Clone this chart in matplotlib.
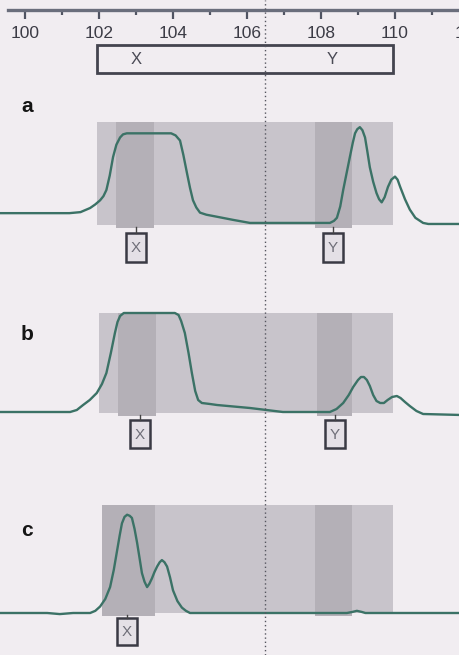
import matplotlib.pyplot as plt
from matplotlib.patches import Rectangle
from matplotlib.ticker import MultipleLocator

plt.rcParams['font.family'] = ['Liberation Sans', 'DejaVu Sans']

# m/z axis of the scan
mz_ticks = [100, 102, 104, 106, 108, 110, 112]
window = (101.95, 109.95)          # scanned range (grey box)
split_mz = 106.49                  # dotted divider
label_x = [103.0, 108.3]           # "X", "Y" in the top box

# trace a
mz_a = [99.3, 101.2, 101.5, 101.76, 101.9, 102.03, 102.12, 102.2, 102.29, 102.38,
        102.47, 102.57, 102.65, 102.75, 103.95, 104.07, 104.19, 104.28, 104.38, 104.46,
        104.54, 104.63, 104.73, 104.9, 105.19, 105.62, 106.08, 108.24, 108.35, 108.43,
        108.52, 108.6, 108.69, 108.78, 108.86, 108.92, 108.98, 109.05, 109.12, 109.19,
        109.25, 109.32, 109.41, 109.5, 109.57, 109.64, 109.72, 109.81, 109.9, 110.0,
        110.07, 110.14, 110.27, 110.4, 110.55, 110.76, 110.9, 111.8]
int_a = [11.5, 11.5, 12.5, 16.5, 20, 24, 28, 34, 48, 66,
         78, 85, 88, 89, 89, 87, 82, 68, 50, 36,
         24, 17, 12, 10, 8, 5, 2, 2, 4, 7,
         18, 34, 50, 66, 80, 89, 93, 95, 92, 85,
         72, 56, 42, 31, 25, 22, 27, 37, 44, 47,
         44, 37, 25, 15, 7, 2, 1, 1]
peaks_a = [103.0, 108.32]
bands_a = [(102.45, 103.5), (107.85, 108.85)]

# trace b
mz_b = [99.3, 101.22, 101.4, 101.57, 101.75, 101.94, 102.08, 102.2, 102.32, 102.43,
        102.5, 102.57, 102.67, 104.05, 104.15, 104.22, 104.32, 104.42, 104.51, 104.6,
        104.68, 104.78, 105.0, 105.19, 106.08, 106.97, 108.24, 108.42, 108.6, 108.75,
        108.87, 109.0, 109.08, 109.16, 109.24, 109.32, 109.41, 109.5, 109.6, 109.7,
        109.8, 109.92, 110.05, 110.15, 110.27, 110.4, 110.58, 110.76, 111.8]
int_b = [1, 1, 3, 8, 13, 20, 29, 40, 60, 80,
         91, 97, 100, 100, 98, 92, 80, 60, 40, 22,
         13, 10, 9, 8, 5, 1, 1, 4, 10, 18,
         26, 33, 36, 36, 33, 27, 18, 12, 10, 10,
         13, 16, 17, 15, 11, 7, 2, -1, -2]
peaks_b = [103.1, 108.38]
bands_b = [(102.5, 103.55), (107.9, 108.85)]

# trace c
mz_c = [99.3, 100.6, 100.94, 101.3, 101.76, 101.9, 102.03, 102.17, 102.3, 102.4,
        102.49, 102.56, 102.62, 102.69, 102.76, 102.83, 102.89, 102.96, 103.03, 103.1,
        103.16, 103.23, 103.3, 103.36, 103.43, 103.5, 103.57, 103.64, 103.7, 103.77,
        103.84, 103.92, 104.0, 104.12, 104.24, 104.35, 104.46, 108.7, 108.85, 108.97,
        109.1, 109.2, 111.8]
int_c = [0, 0, -1, 0, 0, 2, 6, 13, 24, 40,
         58, 72, 83, 89, 91, 90, 88, 78, 65, 50,
         37, 29, 24, 27, 32, 38, 43, 47, 49, 47,
         43, 33, 21, 11, 5, 2, 0, 0, 1, 2,
         1, 0, 0]
peaks_c = [102.76]
bands_c = [(102.08, 103.5), (107.85, 108.85)]

W, H = 460, 655
PX = 37.0                     # pixels per m/z unit
x_lo = 100 - 25 / PX
x_hi = x_lo + W / PX

bg = '#f1edf1'
box_col = '#c8c4cb'
band_col = '#b4b0b7'
trace_col = '#3b7266'

fig = plt.figure(figsize=(W / 100, H / 100), dpi=100)
fig.patch.set_facecolor(bg)

# top m/z scale; runs past the right edge so the cut "112" label still shows
top_hi = 112.6
ax_top = fig.add_axes([0, 1 - 10 / H, (top_hi - x_lo) * PX / W, 10 / H])
ax_top.patch.set_visible(False)
for s in ['top', 'left', 'right']:
    ax_top.spines[s].set_visible(False)
ax_top.spines['bottom'].set_color('#6a6e7c')
ax_top.spines['bottom'].set_linewidth(2.4)
ax_top.set_yticks([])
ax_top.set_xticks(mz_ticks)
ax_top.set_xticklabels([str(t) for t in mz_ticks])
ax_top.xaxis.set_minor_locator(MultipleLocator(1))
ax_top.set_xlim(x_lo, top_hi)
ax_top.spines['bottom'].set_bounds(x_lo + 8 / PX, top_hi)
ax_top.tick_params(axis='x', which='major', direction='out', length=6.5, width=1.6,
                   color='#505462', pad=5, labelsize=12.5, labelcolor='#3c3c46')
ax_top.tick_params(axis='x', which='minor', direction='out', length=3.5, width=1.6,
                   color='#505462')

panels = [
    ('a', mz_a, int_a, peaks_a, bands_a, window[0], (122, 225), 106, (233, 262)),
    ('b', mz_b, int_b, peaks_b, bands_b, 102.0, (313, 413), 334, (420, 448)),
    ('c', mz_c, int_c, peaks_c, bands_c, 102.08, (505, 613), 530, (618, 645)),
]

for name, mz, inten, peaks, bands, x_start, (top, bot), lab_y, _ in panels:
    ax = fig.add_axes([0, 1 - bot / H, 1, (bot - top) / H])
    ax.set_xlim(x_lo, x_hi)
    ax.set_ylim(0, 100)
    ax.axis('off')
    ax.add_patch(Rectangle((x_start, 0), window[1] - x_start, 100,
                           fc=box_col, ec='none', clip_on=False, zorder=1))
    for b0, b1 in bands:
        ax.add_patch(Rectangle((b0, -3), b1 - b0, 103, fc=band_col, ec='none',
                               clip_on=False, zorder=1.5))
    ax.plot(mz, inten, color=trace_col, lw=1.7, clip_on=False, zorder=3,
            solid_joinstyle='round', solid_capstyle='round')

# overlay in pixel rows: labels, marker boxes, divider
ov = fig.add_axes([0, 0, 1, 1])
ov.set_xlim(x_lo, x_hi)
ov.set_ylim(H, 0)
ov.axis('off')
ov.patch.set_visible(False)

ov.add_patch(Rectangle((window[0], 45), window[1] - window[0], 28, fc='none',
                       ec='#44444f', lw=2.0))
for lx, t in zip(label_x, ['X', 'Y']):
    ov.text(lx, 60, t, ha='center', va='center', fontsize=12, color='#4a4a55')

w_box = 20 / PX
for name, mz, inten, peaks, bands, x_start, (top, bot), lab_y, (b_top, b_bot) in panels:
    ov.text(x_lo + 27 / PX, lab_y, name, fontsize=15, fontweight='bold',
            color='#151515', ha='center', va='center')
    for p, t in zip(peaks, ['X', 'Y']):
        ov.plot([p, p], [bot + 2, b_top], color='#444', lw=1.0)
        ov.add_patch(Rectangle((p - w_box / 2, b_top), w_box, b_bot - b_top,
                               fc='#e4e0e6', ec='#3a3a44', lw=1.8))
        ov.text(p, (b_top + b_bot) / 2 + 1, t, ha='center', va='center',
                fontsize=11, color='#6e6e78')

ov.axvline(split_mz, color='#55555f', lw=1.0, ls=(0, (1, 2)), zorder=5)

fig.savefig('out.png', dpi=100, facecolor=bg)
